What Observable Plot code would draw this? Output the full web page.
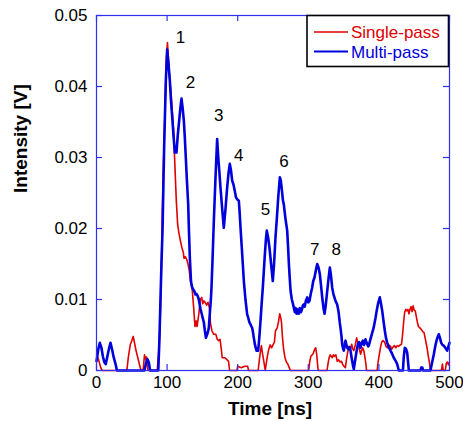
<!DOCTYPE html>
<html>
<head>
<meta charset="utf-8">
<script src="https://cdn.jsdelivr.net/npm/d3@7"></script>
<script src="https://cdn.jsdelivr.net/npm/@observablehq/plot@0.6"></script>
<style>
  html, body { margin: 0; padding: 0; background: white; }
  #chart { width: 463px; height: 421px; }
</style>
</head>
<body>
<div id="chart"></div>
<script>
// ---- Data ----
const xTicks = [0, 100, 200, 300, 400, 500];
const xTickLabels = ["0", "100", "200", "300", "400", "500"];
const yTicks = [0, 0.01, 0.02, 0.03, 0.04, 0.05];
const yTickLabels = ["0", "0.01", "0.02", "0.03", "0.04", "0.05"];

const seriesNames = ["Single-pass", "Multi-pass"];

const singleTime = [0,3,6,8,43,45,48,50,52,54,56,58,60,63,66,68,70,71,73,86,88,90,92,94,97,99,100.5,103,106,109,111,113,115,117,119,121,123,124,126,128,130,131.5,133,135.5,137.5,139.5,141,142.5,145,147,149,150.5,152,154,156,158,160,161.5,163.5,166,169,171,173,175,177,178,182,185,187,188.5,199,200,205,210,214,215.5,229,231,233.5,235,237,239,240.5,242,244,246,248,250,252,253.5,256,258,259.5,261,262,263.5,265,267,269,271,273,274.5,300.5,302,303.5,305.5,307,309,310.5,312,313,314,326.5,328,329.5,331,332.5,334,335.5,337,339,341,343,345,347,348.5,350.5,352.5,354,355.5,357.5,359.5,361.5,363,364.5,366.5,368.5,370.5,372,374,375.5,377,378.6,380,381.5,382.5,397.5,399,400.5,402.3,404,406,408,410,412,414,416.4,418,420,422,424,426,428,430,432,433.5,435,436.5,438,439.5,441,442.5,444,445.5,447,448.5,450,451.5,453,454.5,456,458,460,462,464,465.5,467,468.5,470,471.5,473,488.5,490,491,494,495.5,497,498.5,500];
const singleValue = [0.0023,0.0015,0.0004,0,0,0.0018,0.0037,0.0042,0.0048,0.0038,0.0028,0.0020,0.0012,0,0,0.0022,0.0015,0.0019,0,0,0.0025,0.0060,0.0150,0.0260,0.0365,0.0440,0.0462,0.0420,0.0385,0.0340,0.0290,0.0240,0.0205,0.0192,0.0182,0.0173,0.0166,0.0158,0.0160,0.0156,0.0148,0.0140,0.0126,0.0115,0.0090,0.0062,0.0070,0.0062,0.0080,0.0100,0.0103,0.0094,0.0098,0.0096,0.0092,0.0096,0.0088,0.0066,0.0056,0.0051,0.0051,0.0044,0.0042,0.0044,0.0028,0.0018,0.0018,0.0015,0.0013,0,0,0.0006,0.0004,0.0006,0.0006,0,0,0.0018,0.0035,0.0025,0.0013,0,0.0010,0.0020,0.0030,0.0036,0.0032,0.0036,0.0040,0.0056,0.0060,0.0070,0.0080,0.0074,0.0068,0.0046,0.0030,0.0018,0.0012,0.0009,0.0004,0,0,0.0012,0.0020,0.0022,0.0024,0.0030,0.0032,0.0022,0.0010,0,0,0.0010,0.0018,0.0022,0.0020,0.0018,0.0022,0.0020,0.0022,0.0013,0.0015,0.0012,0.0013,0.0009,0.0006,0.0004,0.0015,0.0024,0.0034,0.0030,0.0037,0.0030,0.0028,0.0036,0.0046,0.0037,0.0032,0.0023,0.0028,0.0032,0.0028,0.0020,0.0010,0,0,0.0013,0.0022,0.0033,0.0040,0.0042,0.0040,0.0034,0.0032,0.0036,0.0034,0.0030,0.0033,0.0035,0.0032,0.0035,0.0034,0.0036,0.0037,0.0050,0.0068,0.0082,0.0086,0.0084,0.0086,0.0080,0.0086,0.0090,0.0083,0.0091,0.0085,0.0084,0.0076,0.0068,0.0062,0.0060,0.0058,0.0055,0.0053,0.0046,0.0038,0.0030,0.0020,0.0012,0,0,0.0009,0,0,0.0010,0.0012,0.0008,0.0012];

const multiTime = [0,2.5,4.7,7,9,11,13,15,17.5,19.8,22,24.5,27,29,68,70,72,74,76,87.5,89,90.7,92,93.5,95.8,98.2,100.1,102,103.9,105.5,107.6,109.3,111,113.3,115,117.1,118.8,120.4,122,123.7,125,126.5,128.2,129.9,131,132.2,133.9,135.5,137,138.5,140.2,141.5,143.3,144.9,146,147.3,149,150.5,152,153.5,155,156.8,158,159.1,160.5,162,162.9,164.5,166.2,168.5,170.9,172.5,174,175.6,178,180.3,182.5,185.1,187,188.8,190.5,192.2,194,195.9,197.5,199.3,201.6,202.8,204,206,208.7,211,213.4,215,216.5,218.1,219.5,220.5,221.5,222.8,224.5,226.6,229,230.5,232.3,234,235.6,237,238.5,240,241.2,243,245,247.3,249.7,251.5,253.5,255.5,257.5,259.7,261,262.5,264,265.3,267.5,270.1,271.3,272.5,273.7,274.9,276.7,278.5,280,281,282,283.5,285,286.5,288,289.5,291,292.5,293.6,295,296.5,298.4,300,301.7,303.5,305.5,307,308.8,310.5,312.6,314.5,316.3,318,319.7,321.5,323,324.5,326.8,328.5,330.5,332,333.8,335.5,337,338.5,340.9,342.5,343.3,344.5,345.6,347,348,349.5,350.3,351.5,352.7,354,355.1,357,358.5,359.8,361,362.2,363.5,364.5,365.7,366.9,368.5,370.2,372,374,375.5,377.2,379,381,382.2,383.4,385,385.7,387.5,390.5,392.5,395.2,397,399,401.3,403,404.7,406.5,408.4,410,411.8,413.5,416.4,418.5,421.1,423.5,425.9,428.2,434,435.3,436.7,438.5,440.1,441.3,442.4,459,460,461.5,462.5,473,475.5,477.8,480,481.6,483.5,484.8,486.5,488.2,490,491.9,494,496.7,498.5,500];
const multiValue = [0.0013,0.0030,0.0039,0.0032,0.0020,0.0012,0.0009,0.0018,0.0030,0.0039,0.0030,0.0018,0.0009,0,0,0.0010,0.0016,0.0012,0,0,0.0040,0.0103,0.0150,0.0197,0.0314,0.0408,0.0452,0.0432,0.0408,0.0380,0.0352,0.0328,0.0307,0.0307,0.0330,0.0352,0.0370,0.0383,0.0370,0.0352,0.0330,0.0300,0.0265,0.0234,0.0195,0.0159,0.0125,0.0117,0.0114,0.0112,0.0107,0.0108,0.0105,0.0100,0.0094,0.0087,0.0080,0.0074,0.0068,0.0056,0.0046,0.0051,0.0055,0.0060,0.0080,0.0100,0.0117,0.0160,0.0211,0.0270,0.0326,0.0300,0.0280,0.0258,0.0228,0.0201,0.0225,0.0258,0.0278,0.0291,0.0282,0.0267,0.0262,0.0253,0.0244,0.0241,0.0239,0.0222,0.0201,0.0170,0.0126,0.0100,0.0079,0.0074,0.0068,0.0065,0.0062,0.0060,0.0055,0.0046,0.0036,0.0028,0.0028,0.0045,0.0070,0.0095,0.0117,0.0140,0.0164,0.0185,0.0197,0.0188,0.0173,0.0150,0.0126,0.0150,0.0187,0.0215,0.0245,0.0272,0.0268,0.0255,0.0240,0.0234,0.0215,0.0197,0.0175,0.0150,0.0130,0.0112,0.0100,0.0093,0.0086,0.0082,0.0088,0.0080,0.0086,0.0080,0.0088,0.0082,0.0086,0.0092,0.0093,0.0090,0.0098,0.0103,0.0096,0.0098,0.0108,0.0117,0.0126,0.0131,0.0140,0.0150,0.0145,0.0136,0.0120,0.0103,0.0088,0.0080,0.0090,0.0112,0.0128,0.0145,0.0135,0.0117,0.0108,0.0103,0.0098,0.0093,0.0085,0.0079,0.0068,0.0060,0.0048,0.0037,0.0030,0.0028,0.0036,0.0042,0.0036,0.0032,0.0030,0.0033,0.0028,0.0020,0.0013,0.0006,0.0002,0.0010,0.0018,0.0028,0.0037,0.0040,0.0032,0.0038,0.0042,0.0036,0.0044,0.0040,0.0037,0.0034,0.0035,0.0042,0.0053,0.0060,0.0074,0.0085,0.0095,0.0103,0.0094,0.0084,0.0070,0.0056,0.0046,0.0039,0.0034,0.0028,0.0024,0.0018,0.0014,0.0009,0,0,0.0020,0.0032,0.0030,0.0025,0.0012,0,0,0.0004,0.0004,0,0,0.0012,0.0023,0.0035,0.0042,0.0048,0.0051,0.0046,0.0039,0.0036,0.0035,0.0032,0.0028,0.0034,0.0039];

const peakLabels = ["1", "2", "3", "4", "5", "6", "7", "8"];
const peakTime = [119, 133, 173, 201.5, 239.5, 265.5, 309, 339.5];
const peakValue = [0.0469, 0.0406, 0.0359, 0.0303, 0.0227, 0.0295, 0.0171, 0.0171];

const xLabel = "Time [ns]";
const yLabel = "Intensity [V]";

// ---- Build tables ----
const single = singleTime.map((t, i) => ({t, v: singleValue[i]}));
const multi = multiTime.map((t, i) => ({t, v: multiValue[i]}));
const peaks = peakLabels.map((s, i) => ({s, t: peakTime[i], v: peakValue[i]}));

const RED = "#e00000";
const BLUE = "#0000dc";
const AXIS = "#3030f0";
const FONT = "'Liberation Sans', Arial, Helvetica, sans-serif";

const W = 463, H = 421, ML = 96, MR = 14, MT = 15, MB = 51;
const innerW = W - ML - MR, innerH = H - MT - MB, TICK = 6;

const chart = Plot.plot({
  width: W, height: H,
  marginLeft: ML, marginRight: MR, marginTop: MT, marginBottom: MB,
  x: {domain: [0, 500]},
  y: {domain: [0, 0.05]},
  style: {fontFamily: FONT, fontSize: "17px", color: "black", background: "white", overflow: "visible"},
  marks: [
    Plot.line(single, {x: "t", y: "v", stroke: RED, strokeWidth: 1.6, strokeLinejoin: "round"}),
    Plot.line(multi, {x: "t", y: "v", stroke: BLUE, strokeWidth: 2.6, strokeLinejoin: "round"}),
    Plot.frame({stroke: AXIS, strokeWidth: 1.2}),
    Plot.tickX(xTicks, {x: d => d, stroke: AXIS, strokeWidth: 1.2, insetTop: innerH - TICK}),
    Plot.tickX(xTicks, {x: d => d, stroke: AXIS, strokeWidth: 1.2, insetBottom: innerH - TICK}),
    Plot.tickY(yTicks, {y: d => d, stroke: AXIS, strokeWidth: 1.2, insetRight: innerW - TICK}),
    Plot.tickY(yTicks, {y: d => d, stroke: AXIS, strokeWidth: 1.2, insetLeft: innerW - TICK}),
    Plot.axisX({ticks: xTicks, tickSize: 0, tickPadding: 5, label: null,
      tickFormat: d => xTickLabels[xTicks.indexOf(d)], fontSize: 17}),
    Plot.axisY({ticks: yTicks, tickSize: 0, tickPadding: 9, label: null,
      tickFormat: d => yTickLabels[yTicks.indexOf(d)], fontSize: 17}),
    Plot.text(peaks, {x: "t", y: "v", text: "s", fill: "black", fontSize: 17, textAnchor: "middle", lineAnchor: "middle"}),
    Plot.text([xLabel], {frameAnchor: "bottom", text: d => d, dx: -3, dy: 44, lineAnchor: "bottom",
      fontWeight: "bold", fontSize: 19, fill: "black"}),
    Plot.text([yLabel], {frameAnchor: "left", text: d => d, rotate: -90, dx: -69.5, lineAnchor: "bottom",
      fontWeight: "bold", fontSize: 19, fill: "black"})
  ]
});

document.getElementById("chart").appendChild(chart);

// ---- Legend (inside the top-right corner of the frame) ----
const svg = d3.select(chart);
const lg = svg.append("g").attr("font-family", FONT).attr("font-size", 17).attr("text-anchor", "start");
lg.append("rect").attr("x", 307).attr("y", 15.5).attr("width", 141.5).attr("height", 51)
  .attr("fill", "white").attr("stroke", "black").attr("stroke-width", 1.6);
const legendColors = [RED, BLUE];
seriesNames.forEach((name, i) => {
  const y = 32 + i * 19.5;
  lg.append("line").attr("x1", 314).attr("x2", 348).attr("y1", y).attr("y2", y)
    .attr("stroke", legendColors[i]).attr("stroke-width", i === 0 ? 1.6 : 2.2);
  lg.append("text").attr("x", 351).attr("y", y + 6).attr("text-anchor", "start")
    .attr("fill", legendColors[i]).text(name);
});
</script>
</body>
</html>
